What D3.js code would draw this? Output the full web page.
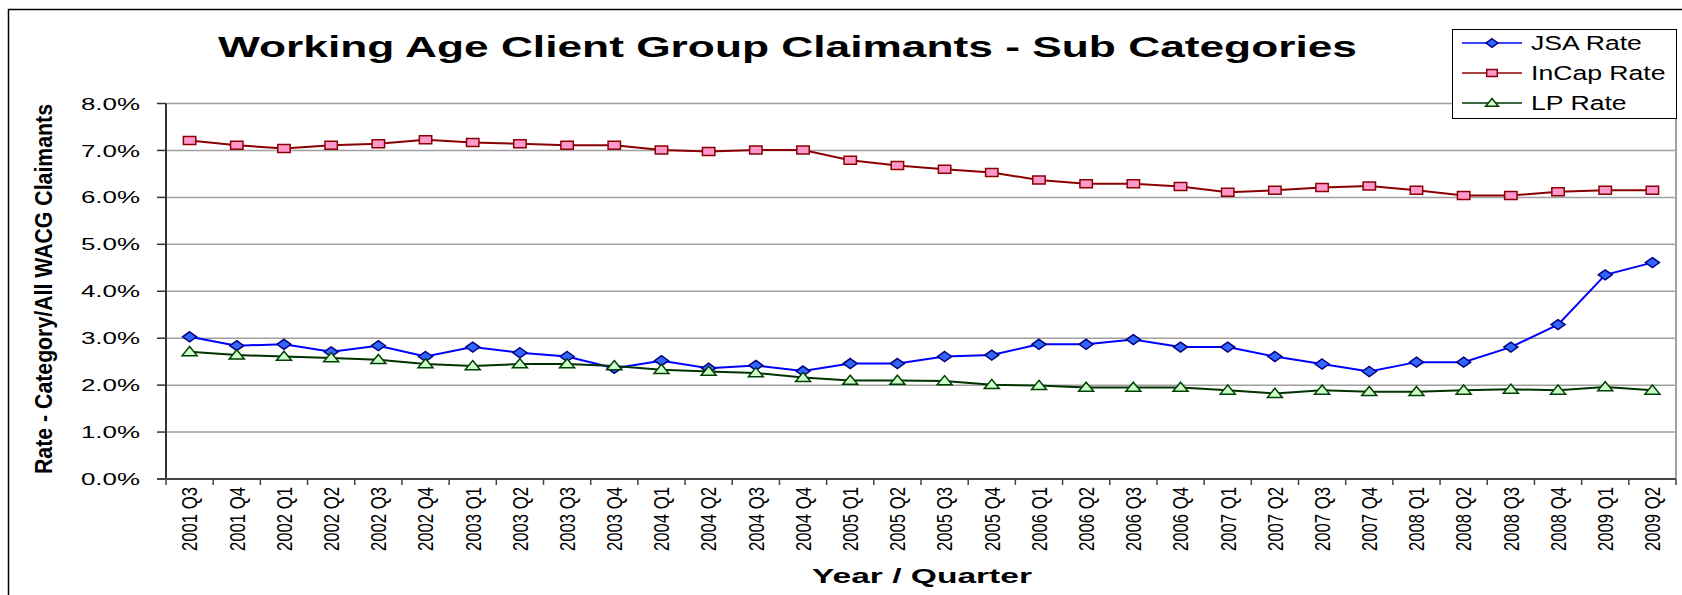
<!DOCTYPE html>
<html>
<head>
<meta charset="utf-8">
<script src="https://cdn.jsdelivr.net/npm/d3@7"></script>
<style>
  html, body { margin: 0; padding: 0; background: #fff; }
  svg { display: block; font-family: Arial, "Liberation Sans", sans-serif; }
</style>
</head>
<body>
<svg width="1682" height="595"></svg>
<script>
// données
const quarters = ["2001 Q3","2001 Q4","2002 Q1","2002 Q2","2002 Q3","2002 Q4","2003 Q1","2003 Q2",
  "2003 Q3","2003 Q4","2004 Q1","2004 Q2","2004 Q3","2004 Q4","2005 Q1","2005 Q2",
  "2005 Q3","2005 Q4","2006 Q1","2006 Q2","2006 Q3","2006 Q4","2007 Q1","2007 Q2",
  "2007 Q3","2007 Q4","2008 Q1","2008 Q2","2008 Q3","2008 Q4","2009 Q1","2009 Q2"];

const jsaRate = [3.03,2.84,2.87,2.71,2.84,2.61,2.81,2.69,2.61,2.36,2.52,2.36,2.42,2.30,2.46,2.46,
  2.61,2.64,2.87,2.87,2.97,2.81,2.81,2.61,2.45,2.29,2.49,2.49,2.81,3.29,4.35,4.61];
const incapRate = [7.21,7.11,7.04,7.11,7.14,7.23,7.17,7.14,7.11,7.11,7.01,6.98,7.01,7.01,6.79,6.68,
  6.60,6.53,6.37,6.29,6.29,6.23,6.11,6.15,6.21,6.24,6.15,6.04,6.04,6.12,6.15,6.15];
const lpRate = [2.71,2.64,2.61,2.58,2.54,2.45,2.41,2.45,2.45,2.41,2.33,2.29,2.26,2.16,2.10,2.10,
  2.09,2.01,1.99,1.95,1.95,1.95,1.89,1.82,1.89,1.86,1.86,1.89,1.91,1.89,1.96,1.89];

const yTicks = [0,1,2,3,4,5,6,7,8];

const seriesNames = ["JSA Rate", "InCap Rate", "LP Rate"];

const series = [
  {name: seriesNames[0], values: jsaRate, line: "#0000ff", fill: "#3366ff", stroke: "#000080",
   shape: "M0,-1L1,0L-0,1L-1,0Z", sx: 7, sy: 5},
  {name: seriesNames[1], values: incapRate, line: "#8b0000", fill: "#ff99cc", stroke: "#8b0000",
   shape: "M-1,-1L1,-1L1,1L-1,1Z", sx: 6.2, sy: 4},
  {name: seriesNames[2], values: lpRate, line: "#003300", fill: "#ccffcc", stroke: "#004000",
   shape: "M0,-1.1L1,0.8L-1,0.8Z", sx: 7.5, sy: 4.8}
];

const svg = d3.select("svg");

// étirer le texte horizontalement (le graphique d'origine est étiré)
function stretch(sel, k) {
  sel.each(function() {
    const w = this.getComputedTextLength();
    d3.select(this).attr("textLength", w * k).attr("lengthAdjust", "spacingAndGlyphs");
  });
}

// cadre extérieur
svg.append("rect")
  .attr("x", 8.5).attr("y", 9.5)
  .attr("width", 1700).attr("height", 600)
  .attr("fill", "none").attr("stroke", "#000").attr("stroke-width", 1.5);

// échelles
const x = d3.scaleBand().domain(quarters).range([166, 1676]);
const y = d3.scaleLinear().domain([0, 8]).range([479, 103.5]);
const cx = d => x(d) + x.bandwidth() / 2;

// grille
svg.selectAll("line.grid")
  .data(yTicks.filter(d => d > 0))
  .join("line")
  .attr("class", "grid")
  .attr("x1", 166).attr("x2", 1676)
  .attr("y1", d => y(d)).attr("y2", d => y(d))
  .attr("stroke", "#a0a0a0").attr("stroke-width", 1.5);

// bord droit du graphique
svg.append("line")
  .attr("x1", 1676).attr("x2", 1676)
  .attr("y1", y(8)).attr("y2", y(0))
  .attr("stroke", "#a0a0a0").attr("stroke-width", 2);

// axe Y
svg.append("line")
  .attr("x1", 166).attr("x2", 166)
  .attr("y1", y(8)).attr("y2", y(0))
  .attr("stroke", "#333").attr("stroke-width", 2);

svg.selectAll("line.ytick")
  .data(yTicks)
  .join("line")
  .attr("class", "ytick")
  .attr("x1", 157).attr("x2", 166)
  .attr("y1", d => y(d)).attr("y2", d => y(d))
  .attr("stroke", "#333").attr("stroke-width", 1.5);

svg.selectAll("text.ylab")
  .data(yTicks)
  .join("text")
  .attr("class", "ylab")
  .attr("x", 140)
  .attr("y", d => y(d))
  .attr("dy", "0.38em")
  .attr("text-anchor", "end")
  .attr("font-size", "16px")
  .attr("fill", "#000")
  .text(d => d.toFixed(1) + "%")
  .call(stretch, 1.62);

// axe X
svg.append("line")
  .attr("x1", 157).attr("x2", 1676)
  .attr("y1", y(0)).attr("y2", y(0))
  .attr("stroke", "#444").attr("stroke-width", 2);

svg.selectAll("line.xtick")
  .data(quarters.concat(["end"]))
  .join("line")
  .attr("class", "xtick")
  .attr("x1", d => d === "end" ? 1676 : x(d))
  .attr("x2", d => d === "end" ? 1676 : x(d))
  .attr("y1", y(0)).attr("y2", y(0) + 6)
  .attr("stroke", "#444").attr("stroke-width", 1.5);

svg.selectAll("text.xlab")
  .data(quarters)
  .join("text")
  .attr("class", "xlab")
  .attr("transform", d => `translate(${cx(d)},487) rotate(-90) scale(1,1.5)`)
  .attr("dy", "0.36em")
  .attr("text-anchor", "end")
  .attr("font-size", "14.5px")
  .attr("fill", "#000")
  .text(d => d)
  .attr("textLength", 64)
  .attr("lengthAdjust", "spacingAndGlyphs");

// lignes + marqueurs
const line = d3.line().x((d, i) => cx(quarters[i])).y(d => y(d));

series.forEach(s => {
  svg.append("path")
    .datum(s.values)
    .attr("d", line)
    .attr("fill", "none")
    .attr("stroke", s.line)
    .attr("stroke-width", 2);

  svg.append("g")
    .selectAll("path")
    .data(s.values)
    .join("path")
    .attr("d", s.shape)
    .attr("transform", (d, i) => `translate(${cx(quarters[i])},${y(d)}) scale(${s.sx},${s.sy})`)
    .attr("fill", s.fill)
    .attr("stroke", s.stroke)
    .attr("stroke-width", 1.5)
    .attr("vector-effect", "non-scaling-stroke");
});

// titre
svg.append("text")
  .attr("x", 218).attr("y", 57)
  .attr("font-size", "29px")
  .attr("font-weight", "bold")
  .attr("fill", "#000")
  .text("Working Age Client Group Claimants - Sub Categories")
  .attr("textLength", 1139)
  .attr("lengthAdjust", "spacingAndGlyphs");

// titre axe Y
svg.append("text")
  .attr("transform", "translate(43,289) rotate(-90) scale(1,1.5)")
  .attr("dy", "0.36em")
  .attr("text-anchor", "middle")
  .attr("font-size", "16px")
  .attr("font-weight", "bold")
  .attr("fill", "#000")
  .text("Rate - Category/All WACG Claimants")
  .attr("textLength", 370)
  .attr("lengthAdjust", "spacingAndGlyphs");

// titre axe X
svg.append("text")
  .attr("x", 922).attr("y", 583)
  .attr("text-anchor", "middle")
  .attr("font-size", "21px")
  .attr("font-weight", "bold")
  .attr("fill", "#000")
  .text("Year / Quarter")
  .attr("textLength", 220)
  .attr("lengthAdjust", "spacingAndGlyphs");

// légende
const legend = svg.append("g");
legend.append("rect")
  .attr("x", 1452.5).attr("y", 29.5)
  .attr("width", 224).attr("height", 89)
  .attr("fill", "#fff").attr("stroke", "#000").attr("stroke-width", 1);

const ly = d3.scalePoint().domain(seriesNames).range([43, 103]);

const item = legend.selectAll("g.item")
  .data(series)
  .join("g")
  .attr("class", "item")
  .attr("transform", d => `translate(0,${ly(d.name)})`);

item.append("line")
  .attr("x1", 1462).attr("x2", 1522)
  .attr("stroke", d => d.line).attr("stroke-width", 1.5);

item.append("path")
  .attr("d", d => d.shape)
  .attr("transform", d => `translate(1492,0) scale(${d.sx * 0.85},${d.sy * 0.85})`)
  .attr("fill", d => d.fill)
  .attr("stroke", d => d.stroke)
  .attr("stroke-width", 1.5)
  .attr("vector-effect", "non-scaling-stroke");

item.append("text")
  .attr("x", 1531)
  .attr("dy", "0.36em")
  .attr("font-size", "20px")
  .attr("fill", "#000")
  .text(d => d.name)
  .call(stretch, 1.33);
</script>
</body>
</html>
